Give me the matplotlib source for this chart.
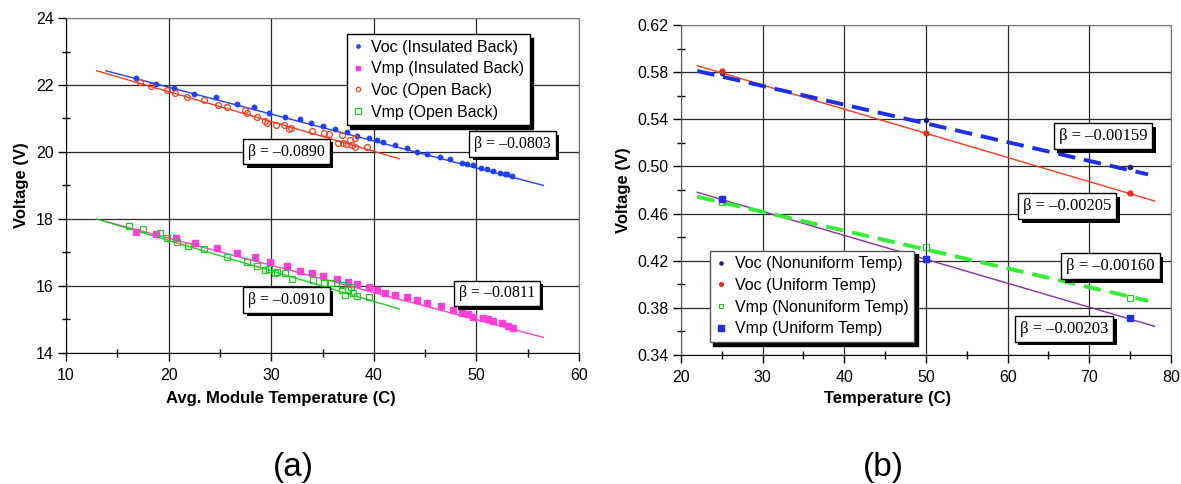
import matplotlib
matplotlib.use("Agg")
import matplotlib.pyplot as plt
import matplotlib.patheffects as pe
import numpy as np

plt.rcParams.update({"font.family": ["Liberation Sans", "DejaVu Sans"], "font.size": 11.5})

# ---- (a) module voltages vs. average module temperature ----
voc_ins_t = [16.8, 18.8, 20.5, 22.5, 24.6, 26.7, 28.3, 29.8, 31.3, 32.8, 33.9, 35.0,
             36.2, 37.4, 38.4, 39.5, 40.3, 40.9, 42.1, 43.2, 44.2, 45.2, 46.4, 47.4,
             48.6, 49.1, 49.7, 50.4, 51.0, 51.6, 52.3, 52.8, 53.0, 53.5]
voc_ins_v = [22.22, 22.02, 21.90, 21.73, 21.64, 21.43, 21.34, 21.16, 21.05, 20.98, 20.87,
             20.78, 20.69, 20.60, 20.48, 20.42, 20.36, 20.30, 20.20, 20.12, 20.00, 19.94,
             19.85, 19.79, 19.68, 19.64, 19.61, 19.52, 19.50, 19.43, 19.37, 19.35, 19.34,
             19.28]
vmp_ins_t = [16.8, 18.8, 20.7, 22.6, 24.7, 26.7, 28.4, 29.9, 31.5, 32.8, 34.0, 35.0,
             36.4, 37.5, 38.4, 39.5, 40.3, 41.1, 42.1, 43.2, 44.2, 45.2, 46.5, 47.7,
             48.6, 49.2, 49.7, 50.6, 51.1, 51.6, 52.5, 53.1, 53.6]
vmp_ins_v = [17.60, 17.55, 17.43, 17.28, 17.13, 16.98, 16.86, 16.71, 16.60, 16.45, 16.38,
             16.30, 16.20, 16.12, 16.05, 15.97, 15.88, 15.80, 15.73, 15.67, 15.58, 15.50,
             15.40, 15.28, 15.20, 15.15, 15.08, 15.04, 15.00, 14.96, 14.90, 14.80, 14.75]
voc_open_t = [17.2, 18.3, 19.8, 20.6, 21.8, 23.4, 24.8, 25.7, 27.4, 27.6, 28.6, 29.4,
              29.6, 30.5, 31.2, 31.7, 31.9, 34.0, 35.1, 35.6, 36.5, 36.9, 37.0, 37.3,
              37.7, 37.9, 38.2, 38.2, 39.3]
voc_open_v = [22.08, 21.97, 21.85, 21.77, 21.65, 21.55, 21.40, 21.35, 21.25, 21.15, 21.04,
              20.93, 20.86, 20.81, 20.80, 20.68, 20.72, 20.63, 20.57, 20.54, 20.27, 20.50,
              20.27, 20.25, 20.36, 20.20, 20.15, 20.43, 20.16]
vmp_open_t = [16.1, 17.5, 19.2, 19.8, 20.8, 21.9, 23.4, 25.7, 27.6, 28.6, 29.4, 29.8,
              30.4, 30.6, 31.3, 32.0, 34.1, 35.1, 35.8, 36.9, 36.9, 37.2, 37.5, 37.8,
              38.0, 38.4, 39.5]
vmp_open_v = [17.80, 17.70, 17.57, 17.43, 17.30, 17.20, 17.10, 16.86, 16.72, 16.60, 16.48,
              16.50, 16.38, 16.42, 16.40, 16.20, 16.17, 16.10, 16.08, 16.03, 15.88, 15.73,
              15.88, 15.97, 15.79, 15.70, 15.67]

# linear fits: slope (beta), intercept, fitted temperature range
beta_a = [-0.0803, -0.0811, -0.0890, -0.0910]
icpt_a = [23.54, 19.05, 23.58, 19.18]
fit_lo_a = [13.9, 13.5, 13.0, 13.0]
fit_hi_a = [56.5, 56.5, 42.5, 42.5]
labels_a = ["Voc (Insulated Back)", "Vmp (Insulated Back)",
            "Voc (Open Back)", "Vmp (Open Back)"]

# ---- (b) cell voltages vs. temperature ----
temp_b = [25, 50, 75]
voc_nonuni = [0.5790, 0.5390, 0.4995]
voc_uni = [0.5810, 0.5286, 0.4777]
vmp_nonuni = [0.4698, 0.4319, 0.3886]
vmp_uni = [0.4724, 0.4215, 0.3717]

beta_b = [-0.00159, -0.00205, -0.00160, -0.00203]
icpt_b = [0.6160, 0.6306, 0.5095, 0.5227]
fit_lo_b = [22.0, 22.0, 22.0, 22.0]
fit_hi_b = [77.2, 78.0, 77.2, 78.0]
labels_b = ["Voc (Nonuniform Temp)", "Voc (Uniform Temp)",
            "Vmp (Nonuniform Temp)", "Vmp (Uniform Temp)"]


def beta_box(ax, x, y, b, ndig, size):
    t = ax.text(x, y, f"\u03b2 = \u2013{abs(b):.{ndig}f}", family="Liberation Serif",
                fontsize=size, ha="center", va="center", zorder=6,
                bbox=dict(boxstyle="square,pad=0.3", fc="white", ec="black", lw=1))
    t.get_bbox_patch().set_path_effects(
        [pe.SimplePatchShadow(offset=(2.5, -2.5), shadow_rgbFace="black", alpha=1),
         pe.Normal()])


def style_axes(ax):
    ax.grid(True, which="major", color="#2a2a2a", lw=0.9)
    ax.set_axisbelow(True)
    for s in ("top", "right"):
        ax.spines[s].set_color("#777777")
    ax.tick_params(which="major", direction="out", length=6, width=1, pad=3,
                   labelsize=11.5)
    ax.tick_params(which="minor", direction="inout", length=6, width=1)
    ax.tick_params(axis="x", pad=5)


def fit_line(ax, b, c, lo, hi, **kw):
    t = np.array([lo, hi])
    ax.plot(t, c + b * t, **kw)


legend_kw = dict(fontsize=11.5, frameon=True, fancybox=False, framealpha=1,
                 edgecolor="black", handlelength=0.7, handletextpad=0.5,
                 borderpad=0.35, labelspacing=0.42, markerscale=0.75,
                 shadow={"color": "black", "alpha": 1, "ox": 2.5, "oy": -2.5})

fig = plt.figure(figsize=(11.81, 4.84), dpi=100)
ax1 = fig.add_axes([0.0559, 0.2707, 0.4344, 0.6921])
ax2 = fig.add_axes([0.5766, 0.2665, 0.4149, 0.6818])

# panel (a)
colors_a = ["#2040ff", "#ff3fd8", "#f0401e", "#22cc22"]
for i in range(4):
    fit_line(ax1, beta_a[i], icpt_a[i], fit_lo_a[i], fit_hi_a[i], color=colors_a[i], lw=1)

ax1.plot(voc_ins_t, voc_ins_v, ls="none", marker="o", ms=3.2, color=colors_a[0],
         label=labels_a[0], zorder=3)
ax1.plot(vmp_ins_t, vmp_ins_v, ls="none", marker="s", ms=4.5, color=colors_a[1],
         label=labels_a[1], zorder=3)
ax1.plot(voc_open_t, voc_open_v, ls="none", marker="o", ms=4.2, mfc="none", mew=0.9,
         color=colors_a[2], label=labels_a[2], zorder=3)
ax1.plot(vmp_open_t, vmp_open_v, ls="none", marker="s", ms=5, mfc="none", mew=0.9,
         color=colors_a[3], label=labels_a[3], zorder=3)

ax1.set_xlim(10, 60)
ax1.set_ylim(14, 24)
ax1.set_xticks(np.arange(10, 61, 10))
ax1.set_xticks(np.arange(15, 60, 10), minor=True)
ax1.set_yticks(np.arange(14, 25, 2))
ax1.set_yticks(np.arange(15, 24, 2), minor=True)
style_axes(ax1)
ax1.set_xlabel("Avg. Module Temperature (C)", fontweight="bold", fontsize=12)
ax1.set_ylabel("Voltage (V)", fontweight="bold", fontsize=12)
ax1.xaxis.set_label_coords(0.419, -0.113)
ax1.yaxis.set_label_coords(-0.072, 0.5)

leg = ax1.legend(loc="upper right", bbox_to_anchor=(0.92, 0.976), **legend_kw)
leg.get_frame().set_linewidth(1)
leg.set_zorder(7)

beta_box(ax1, 31.5, 20.01, beta_a[2], 4, 11.5)
beta_box(ax1, 53.5, 20.24, beta_a[0], 4, 11.5)
beta_box(ax1, 31.5, 15.58, beta_a[3], 4, 11.5)
beta_box(ax1, 52.0, 15.78, beta_a[1], 4, 11.5)

# panel (b)
fit_line(ax2, beta_b[1], icpt_b[1], fit_lo_b[1], fit_hi_b[1], color="#ff3a1a", lw=1, zorder=2)
fit_line(ax2, beta_b[3], icpt_b[3], fit_lo_b[3], fit_hi_b[3], color="#8a2fa8", lw=1, zorder=2)
fit_line(ax2, beta_b[0], icpt_b[0], fit_lo_b[0], fit_hi_b[0], color="#1c2fe8", lw=2.8,
         ls=(0, (4.5, 2.3)), zorder=2.5)
fit_line(ax2, beta_b[2], icpt_b[2], fit_lo_b[2], fit_hi_b[2], color="#33ee33", lw=2.8,
         ls=(0, (4.5, 2.3)), zorder=2.5)

ax2.plot(temp_b, voc_nonuni, ls="none", marker="o", ms=3, color="#1a1a80",
         label=labels_b[0], zorder=3)
ax2.plot(temp_b, voc_uni, ls="none", marker="o", ms=3.5, color="#ee2a1a",
         label=labels_b[1], zorder=3)
ax2.plot(temp_b, vmp_nonuni, ls="none", marker="s", ms=4.5, mfc="none", mew=0.8,
         color="#22cc22", label=labels_b[2], zorder=3)
ax2.plot(temp_b, vmp_uni, ls="none", marker="s", ms=5, color="#2030e0",
         label=labels_b[3], zorder=3)

ax2.set_xlim(20, 80)
ax2.set_ylim(0.34, 0.62)
ax2.set_xticks(np.arange(20, 81, 10))
ax2.set_xticks(np.arange(25, 80, 10), minor=True)
ax2.set_yticks(np.arange(0.34, 0.621, 0.04))
ax2.set_yticks(np.arange(0.36, 0.61, 0.04), minor=True)
ax2.yaxis.set_major_formatter(matplotlib.ticker.FormatStrFormatter("%.2f"))
style_axes(ax2)
ax2.spines["left"].set_color("#555555")
ax2.set_xlabel("Temperature (C)", fontweight="bold", fontsize=12)
ax2.set_ylabel("Voltage (V)", fontweight="bold", fontsize=12)
ax2.yaxis.set_label_coords(-0.102, 0.5)
ax2.xaxis.set_label_coords(0.421, -0.11)

leg2 = ax2.legend(loc="lower left", bbox_to_anchor=(0.043, 0.015), **legend_kw)
leg2.get_frame().set_linewidth(1)
leg2.get_frame().set_edgecolor("#555555")
leg2.set_zorder(7)

beta_box(ax2, 71.7, 0.5258, beta_b[0], 5, 12)
beta_box(ax2, 67.3, 0.4664, beta_b[1], 5, 12)
beta_box(ax2, 72.6, 0.4155, beta_b[2], 5, 12)
beta_box(ax2, 66.9, 0.3621, beta_b[3], 5, 12)

fig.text(0.248, 0.035, "(a)", fontsize=24, ha="center", va="center")
fig.text(0.748, 0.035, "(b)", fontsize=24, ha="center", va="center")

fig.savefig("out.png", dpi=100)
